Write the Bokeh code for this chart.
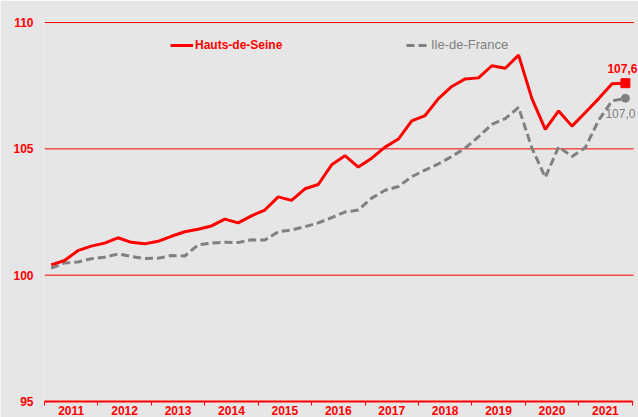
from bokeh.plotting import figure
from bokeh.models import Range1d, FixedTicker, Legend, LegendItem, Label
from bokeh.embed import file_html
from bokeh.resources import INLINE

years = list(range(2011, 2022))
quarters = [1, 2, 3, 4]
y_ticks = [95, 100, 105, 110]

hauts_de_seine = [
    100.41, 100.58, 100.97, 101.15,
    101.27, 101.48, 101.30, 101.24,
    101.34, 101.54, 101.72, 101.82,
    101.95, 102.22, 102.07, 102.35,
    102.58, 103.10, 102.96, 103.42,
    103.59, 104.37, 104.73, 104.28,
    104.63, 105.07, 105.39, 106.11,
    106.32, 106.99, 107.47, 107.77,
    107.81, 108.29, 108.19, 108.71,
    106.99, 105.77, 106.50, 105.90,
    106.44, 106.99, 107.58, 107.60,
]
ile_de_france = [
    100.28, 100.48, 100.52, 100.65,
    100.71, 100.84, 100.74, 100.66,
    100.67, 100.78, 100.76, 101.20,
    101.27, 101.30, 101.29, 101.40,
    101.39, 101.72, 101.79, 101.92,
    102.07, 102.28, 102.50, 102.58,
    103.05, 103.36, 103.51, 103.90,
    104.16, 104.41, 104.70, 105.03,
    105.48, 105.97, 106.20, 106.64,
    105.03, 103.87, 105.08, 104.70,
    105.05, 106.14, 106.90, 107.00,
]

RED = "#FF0000"
GREY = "#808080"
BG = "#E6E6E6"
FONT = "Liberation Sans"

x = [y + (q - 0.5) / 4 for y in years for q in quarters]
x_start, x_end = years[0], years[-1] + 1

p = figure(width=638, height=417, output_backend="svg", toolbar_location=None,
           x_range=Range1d(x_start, x_end + 0.12), y_range=Range1d(95, 110.2),
           min_border_left=44, min_border_right=0, min_border_top=17, min_border_bottom=0)
p.background_fill_color = BG
p.border_fill_color = BG
p.outline_line_color = None

# x axis: labels centred in each year, ticks at year boundaries
p.xaxis.ticker = FixedTicker(ticks=[y + 0.5 for y in years],
                             minor_ticks=list(range(x_start, x_end + 1)))
p.xaxis.bounds = (x_start, x_end)
p.xaxis.major_label_overrides = {y + 0.5: str(y) for y in years}
p.xaxis.major_tick_line_color = None
p.xaxis.major_tick_in = 0
p.xaxis.major_tick_out = 0
p.xaxis.minor_tick_in = 0
p.xaxis.minor_tick_out = 4
p.xaxis.minor_tick_line_color = RED
p.xaxis.axis_line_color = RED
p.xaxis.axis_line_width = 2
p.xaxis.major_label_standoff = 0
p.xaxis.major_label_text_font = FONT
p.xaxis.major_label_text_font_style = "bold"
p.xaxis.major_label_text_font_size = "12px"
p.xaxis.major_label_text_color = RED
p.xgrid.visible = False
p.ygrid.visible = False

p.yaxis.ticker = FixedTicker(ticks=y_ticks)
p.yaxis.axis_line_color = None
p.yaxis.major_tick_line_color = None
p.yaxis.minor_tick_line_color = None
p.yaxis.major_tick_out = 0
p.yaxis.major_label_standoff = 11
p.yaxis.major_label_text_font = FONT
p.yaxis.major_label_text_font_style = "bold"
p.yaxis.major_label_text_font_size = "12px"
p.yaxis.major_label_text_color = RED

# horizontal grid lines spanning the year axis only
p.segment(x0=[x_start] * len(y_ticks), x1=[x_end + 0.03] * len(y_ticks), y0=y_ticks, y1=y_ticks,
          line_color=RED, line_width=1)

r_idf = p.line(x, ile_de_france, line_color=GREY, line_width=3, line_dash="8 4")
r_hds = p.line(x, hauts_de_seine, line_color=RED, line_width=3)
p.scatter([x[-1]], [ile_de_france[-1]], marker="circle", size=8, color=GREY)
p.scatter([x[-1]], [hauts_de_seine[-1]], marker="square", size=9, color=RED)

p.add_layout(Label(x=x[-1], y=hauts_de_seine[-1], text=f"{hauts_de_seine[-1]:.1f}".replace(".", ","),
                   x_offset=-3, y_offset=15, text_align="center", text_baseline="middle",
                   text_font=FONT, text_font_style="bold", text_font_size="12px", text_color=RED))
p.add_layout(Label(x=x[-1], y=ile_de_france[-1], text=f"{ile_de_france[-1]:.1f}".replace(".", ","),
                   x_offset=-5, y_offset=-15, text_align="center", text_baseline="middle",
                   text_font=FONT, text_font_size="12px", text_color=GREY))

def make_legend(label, rend, loc, color, style, size):
    return Legend(items=[LegendItem(label=label, renderers=[rend])], location=loc,
                  orientation="horizontal", background_fill_alpha=0, border_line_color=None,
                  padding=0, margin=0, glyph_width=23, glyph_height=12, label_height=12,
                  label_standoff=2, label_text_font=FONT, label_text_font_style=style,
                  label_text_font_size=size, label_text_color=color, label_text_baseline="middle")

p.add_layout(make_legend("Hauts-de-Seine", r_hds, (126, 349), RED, "bold", "12px"))
p.add_layout(make_legend("Ile-de-France", r_idf, (362, 349), GREY, "normal", "13px"))

open("out.html", "w").write(file_html(p, INLINE))
